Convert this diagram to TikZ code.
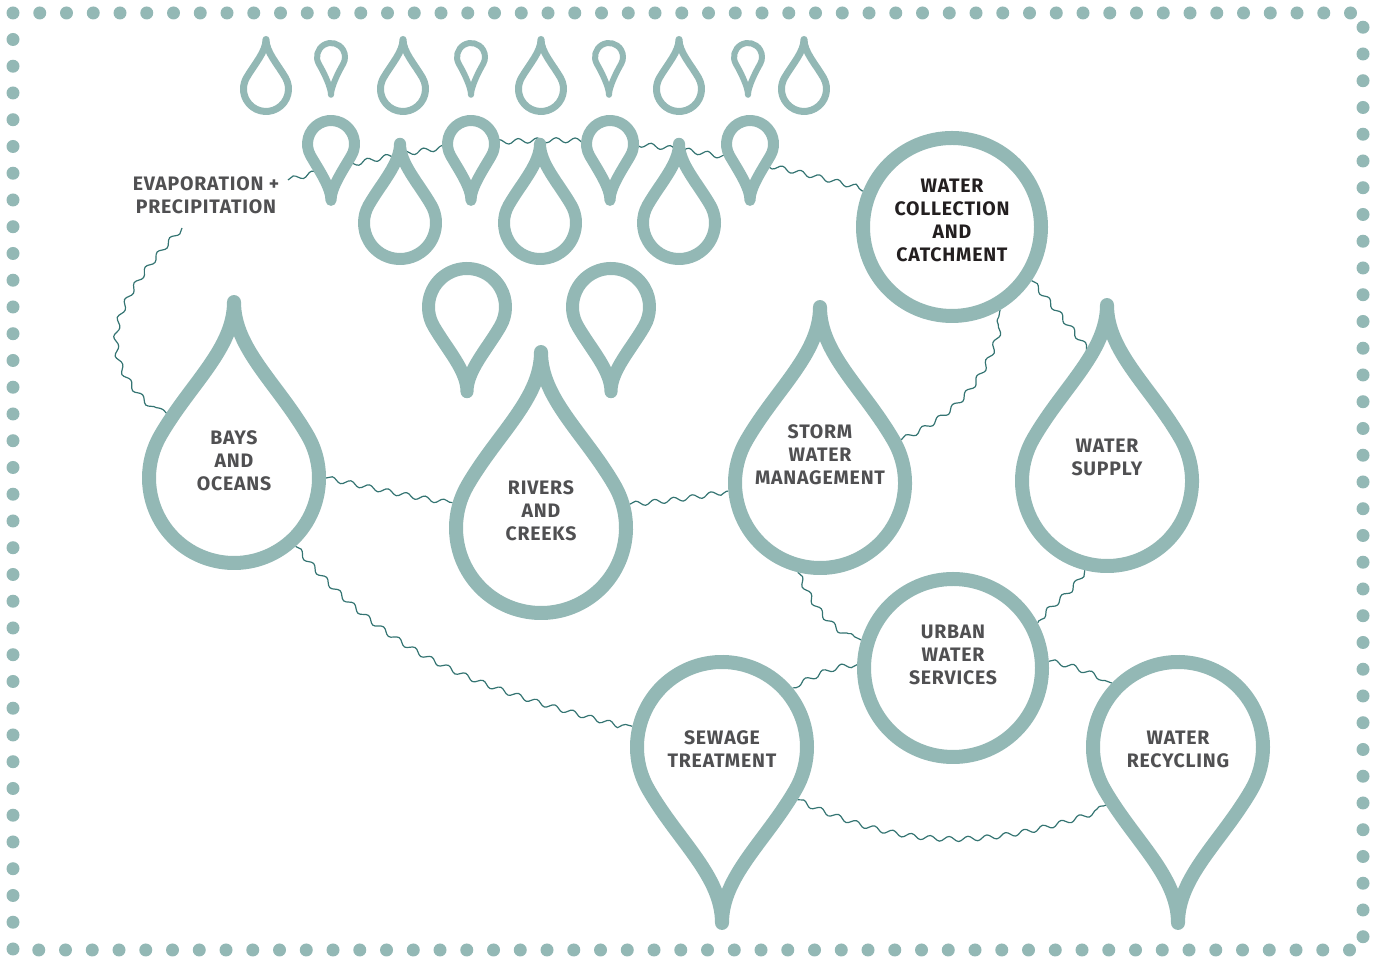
\documentclass[tikz,border=0pt]{standalone}
\usepackage{fontspec}
\newfontfamily\labelfont[LetterSpace=4]{Fira Sans}
\usepackage{tikz}
\usetikzlibrary{decorations.pathmorphing}
\definecolor{droptint}{RGB}{147,184,181}
\definecolor{wavetint}{RGB}{52,116,114}
\definecolor{textgrey}{RGB}{80,80,82}
\definecolor{textdark}{RGB}{35,31,32}
\pgfdeclarelayer{waves}
\pgfdeclarelayer{drops}
\pgfsetlayers{waves,drops,main}
\tikzset{
  pics/drop/.style 2 args={code={
    \path[draw=droptint,fill=white,line join=round]
      (150:#1) .. controls +(60:{0.7*#1}) and +(0,{-0.55*#1}) .. (0,{#2*#1})
      .. controls +(0,{-0.55*#1}) and +(120:{0.7*#1}) .. (30:#1)
      arc[start angle=30,end angle=-210,radius=#1] -- cycle;
  }},
  body/.style={circle,minimum size=184,inner sep=0,outer sep=0},
  ring/.style={circle,draw=droptint,line width=14,fill=white,minimum size=178,inner sep=0},
  lbl/.style={font=\labelfont\bfseries\fontsize{19.5}{23}\selectfont,text=textgrey,align=center,inner sep=0},
  wave/.style={wavetint,line width=1.2,decorate,decoration={snake,amplitude=2.5,segment length=19}},
  dotline/.style={droptint,line width=13,line cap=round,dash pattern=on 0pt off 26.75pt}
}

\begin{document}
\begin{tikzpicture}[x=1pt,y=1pt]
\useasboundingbox (0,0) rectangle (1378,957);

% frame
\draw[dotline] (13,944) -- (1363,944) -- (1363,7) -- (13,7) -- cycle;

% big drops and circles
\node[body] (bays) at (234,479) {};
\node[body] (rivers) at (541,429) {};
\node[body] (storm) at (820,474) {};
\node[body] (supply) at (1107,476) {};
\node[body] (sewage) at (722,210) {};
\node[body] (recycling) at (1178,210) {};
\node[ring] (coll) at (952,730) {};
\node[ring] (urban) at (953,289) {};

% labels
\node[lbl] (evap) at (206,761.5) {EVAPORATION +\\PRECIPITATION};
\node[lbl] (baysT) at ([yshift=17]bays) {BAYS\\AND\\OCEANS};
\node[lbl] (riversT) at ([yshift=17]rivers) {RIVERS\\AND\\CREEKS};
\node[lbl] (stormT) at ([yshift=28]storm) {STORM\\WATER\\MANAGEMENT};
\node[lbl] (supplyT) at ([yshift=24]supply) {WATER\\SUPPLY};
\node[lbl] (sewageT) at ([yshift=-2]sewage) {SEWAGE\\TREATMENT};
\node[lbl] (recyclingT) at ([yshift=-2]recycling) {WATER\\RECYCLING};
\node[lbl,text=textdark] (collT) at ([yshift=7]coll) {WATER\\COLLECTION\\AND\\CATCHMENT};
\node[lbl] (urbanT) at ([yshift=13]urban) {URBAN\\WATER\\SERVICES};

% wavy links
\coordinate (evapR) at (288,777);
\coordinate (evapB) at (182,729);
\begin{pgfonlayer}{waves}
\draw[wave] (evapR) to[out=15,in=165] (coll.158);
\draw[wave] (evapB) to[out=227,in=143,looseness=1.35] (bays.136);
\draw[wave] (bays.0) to[out=-12,in=172] (rivers.164);
\draw[wave] (rivers.15) to[out=5,in=190] (storm.185);
\draw[wave] (storm.28) to[out=25,in=260] (coll.300);
\draw[wave] (coll.326) to[out=-50,in=125] (supply.84);
\draw[wave] (bays.312) to[out=-50,in=165] (sewage.167);
\draw[wave] (storm.256) to[out=-65,in=155] (urban.163);
\draw[wave] (supply.256) to[out=240,in=60] (urban.28);
\draw[wave] (urban.178) to[out=185,in=20] (sewage.40);
\draw[wave] (urban.4) to[out=-10,in=160] (recycling.136);
\draw[wave] (sewage.-35) to[out=-25,in=200] (recycling.219);
\end{pgfonlayer}

\begin{pgfonlayer}{drops}
% rain
\foreach \x in {266,403,541,679,804}
  \pic[line width=7] at (\x,868) {drop={22.5}{2.2}};
\foreach \x in {331,471,609,748}
  \pic[line width=6,rotate=180] at (\x,900) {drop={14}{2.7}};
\foreach \x in {331,471,610,750}
  \pic[line width=11,rotate=180] at (\x,813) {drop={23.5}{2.4}};
\foreach \x in {400,540,679}
  \pic[line width=12] at (\x,734) {drop={36}{2.2}};
\foreach \x in {467,611}
  \pic[line width=13,rotate=180] at (\x,650) {drop={38.5}{2.2}};

% big drops
\foreach \n in {bays,rivers,storm,supply}
  \pic[line width=14] at (\n) {drop={85}{2.07}};
\foreach \n in {sewage,recycling}
  \pic[line width=14,rotate=180] at (\n) {drop={85}{2.07}};
\end{pgfonlayer}
\end{tikzpicture}
\end{document}
